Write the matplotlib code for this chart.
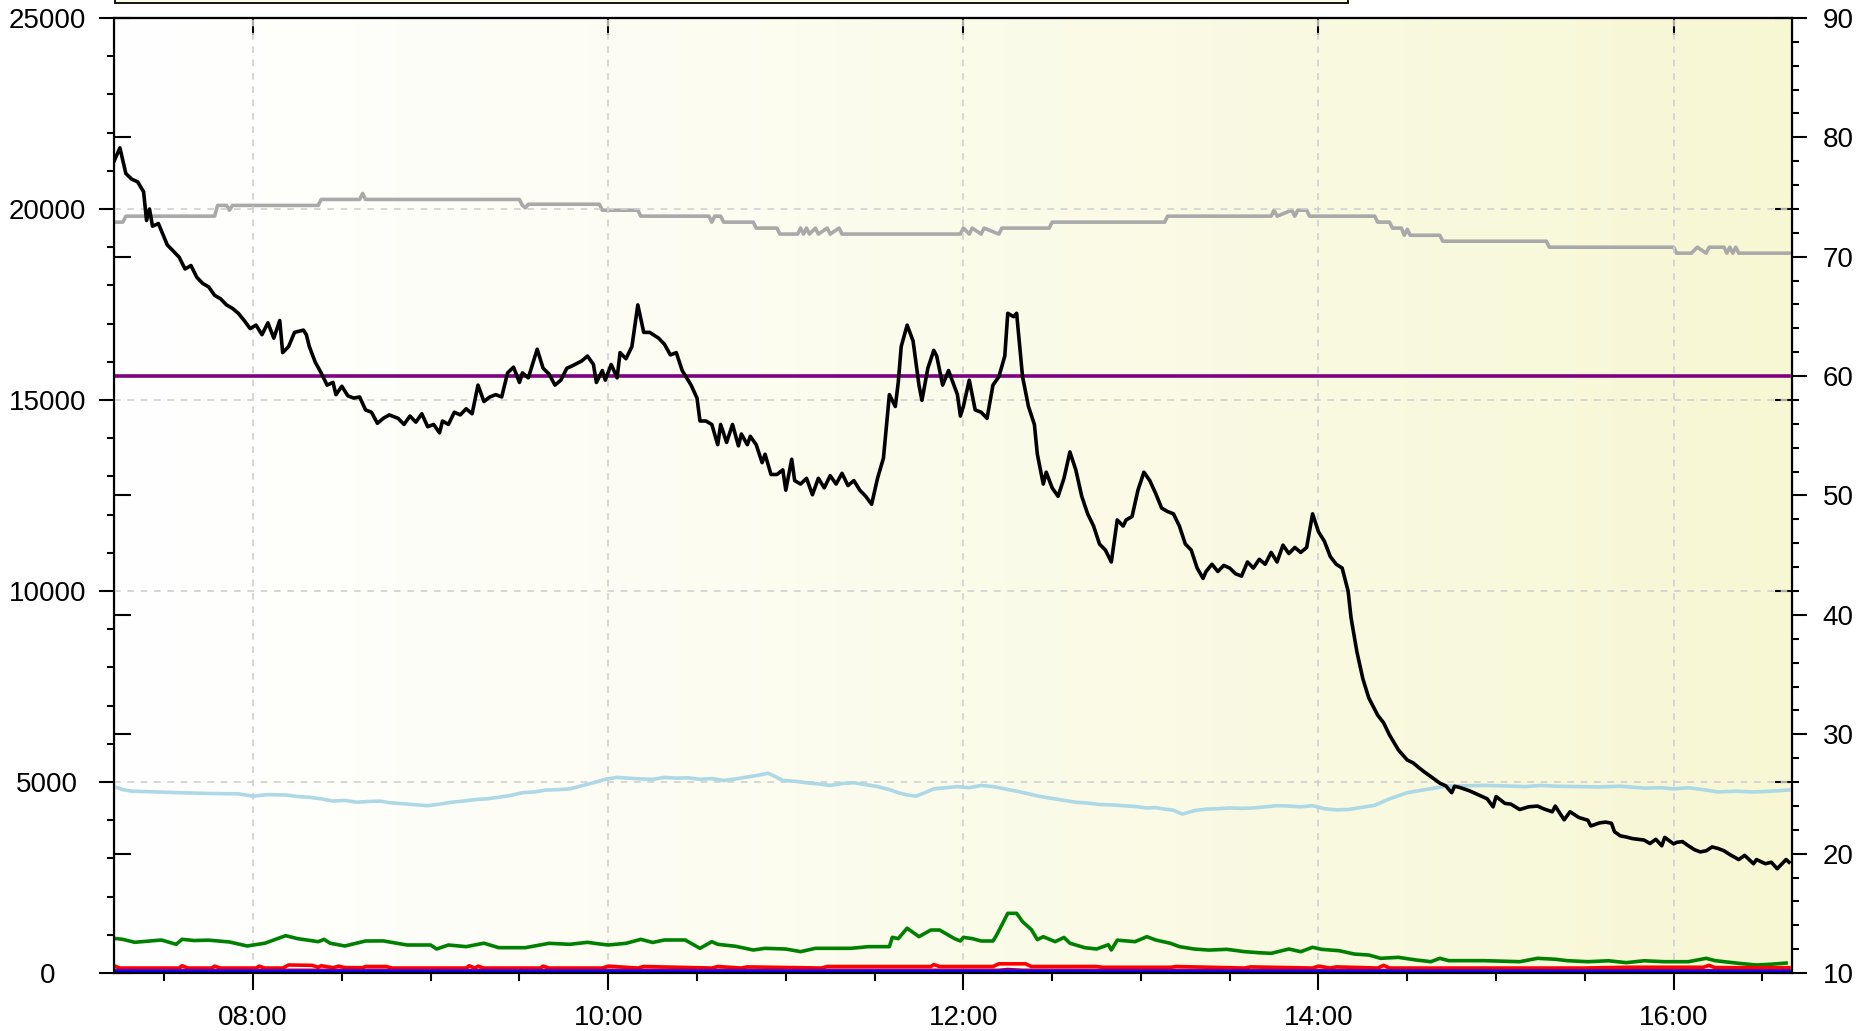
import matplotlib
matplotlib.use("Agg")
import matplotlib.pyplot as plt
import matplotlib.dates as mdates
import numpy as np
import pandas as pd
from matplotlib.colors import to_rgb
from matplotlib.patches import Rectangle

plt.rcParams["font.family"] = ["Liberation Sans", "DejaVu Sans"]
plt.rcParams["font.size"] = 20

DAY = "2024-01-01 "

# --- left axis series -------------------------------------------------------
black_t = ["07:13", "07:15", "07:17", "07:19", "07:21", "07:23", "07:24", "07:25", "07:26", "07:28",
           "07:31", "07:33", "07:35", "07:37", "07:39", "07:41", "07:43", "07:45", "07:47", "07:49",
           "07:51", "07:53", "07:55", "07:57", "07:59", "08:01", "08:03", "08:05", "08:07", "08:09",
           "08:10", "08:12", "08:14", "08:17", "08:18", "08:19", "08:21", "08:23", "08:25", "08:27",
           "08:28", "08:30", "08:32", "08:34", "08:36", "08:38", "08:40", "08:42", "08:44", "08:46",
           "08:49", "08:51", "08:53", "08:55", "08:57", "08:59", "09:01", "09:03", "09:04", "09:06",
           "09:08", "09:10", "09:12", "09:14", "09:16", "09:18", "09:20", "09:22", "09:24", "09:26",
           "09:28", "09:30", "09:31", "09:33", "09:36", "09:38", "09:40", "09:42", "09:44", "09:46",
           "09:48", "09:51", "09:53", "09:55", "09:56", "09:58", "09:59", "10:01", "10:03", "10:04",
           "10:06", "10:08", "10:10", "10:12", "10:14", "10:17", "10:19", "10:21", "10:23", "10:25",
           "10:27", "10:28", "10:30", "10:31", "10:33", "10:35", "10:37", "10:38", "10:40", "10:42",
           "10:44", "10:45", "10:47", "10:48", "10:50", "10:52", "10:53", "10:55", "10:57", "10:59",
           "11:00", "11:02", "11:03", "11:05", "11:07", "11:09", "11:11", "11:13", "11:15", "11:17",
           "11:19", "11:21", "11:23", "11:25", "11:27", "11:29", "11:31", "11:33", "11:35", "11:37",
           "11:38", "11:39", "11:41", "11:43", "11:45", "11:46", "11:48", "11:50", "11:51", "11:53",
           "11:55", "11:58", "11:59", "12:00", "12:02", "12:04", "12:06", "12:08", "12:10", "12:12",
           "12:14", "12:15", "12:17", "12:18", "12:20", "12:22", "12:24", "12:25", "12:27", "12:28",
           "12:30", "12:32", "12:34", "12:36", "12:38", "12:40", "12:42", "12:44", "12:46", "12:48",
           "12:50", "12:52", "12:54", "12:55", "12:57", "12:59", "13:01", "13:03", "13:05", "13:07",
           "13:09", "13:11", "13:13", "13:15", "13:17", "13:19", "13:21", "13:22", "13:24", "13:26",
           "13:28", "13:30", "13:32", "13:34", "13:36", "13:38", "13:40", "13:42", "13:44", "13:46",
           "13:48", "13:50", "13:52", "13:54", "13:56", "13:58", "14:00", "14:02", "14:04", "14:06",
           "14:08", "14:10", "14:11", "14:13", "14:15", "14:17", "14:19", "14:20", "14:22", "14:24",
           "14:27", "14:30", "14:32", "14:34", "14:36", "14:38", "14:41", "14:43", "14:45", "14:46",
           "14:48", "14:51", "14:53", "14:55", "14:57", "14:59", "15:00", "15:03", "15:05", "15:08",
           "15:11", "15:14", "15:16", "15:19", "15:20", "15:23", "15:25", "15:28", "15:31", "15:32",
           "15:35", "15:37", "15:39", "15:40", "15:42", "15:44", "15:46", "15:48", "15:50", "15:52",
           "15:54", "15:56", "15:57", "16:00", "16:01", "16:03", "16:05", "16:07", "16:09", "16:11",
           "16:13", "16:15", "16:17", "16:19", "16:22", "16:24", "16:27", "16:28", "16:31", "16:33",
           "16:35", "16:38", "16:39"]
black_v = [21250, 21600, 20930, 20780, 20710, 20450, 19700, 20000, 19550, 19620,
           19060, 18900, 18740, 18430, 18520, 18210, 18050, 17960, 17740, 17650,
           17490, 17400, 17270, 17080, 16870, 16960, 16710, 17020, 16620, 17080,
           16240, 16400, 16770, 16830, 16710, 16400, 15990, 15710, 15390, 15460,
           15140, 15360, 15110, 15050, 15080, 14740, 14680, 14390, 14520, 14610,
           14520, 14360, 14580, 14420, 14640, 14300, 14360, 14140, 14450, 14360,
           14680, 14610, 14770, 14640, 15390, 14960, 15080, 15140, 15080, 15710,
           15860, 15460, 15710, 15580, 16330, 15830, 15680, 15390, 15520, 15830,
           15900, 16020, 16150, 15930, 15460, 15770, 15520, 15930, 15580, 16240,
           16080, 16400, 17490, 16770, 16770, 16620, 16460, 16180, 16240, 15770,
           15520, 15390, 15050, 14450, 14450, 14360, 13830, 14360, 13890, 14360,
           13800, 14110, 13830, 14050, 13830, 13360, 13580, 13050, 13050, 13170,
           12640, 13450, 12890, 12800, 12950, 12520, 12950, 12700, 13020, 12800,
           13080, 12760, 12890, 12640, 12480, 12270, 12950, 13480, 15140, 14830,
           15460, 16400, 16960, 16550, 15390, 14990, 15830, 16300, 16150, 15390,
           15770, 15140, 14580, 14830, 15520, 14740, 14680, 14520, 15390, 15610,
           16150, 17270, 17180, 17270, 15610, 14830, 14360, 13580, 12800, 13110,
           12700, 12480, 12950, 13640, 13170, 12480, 12020, 11700, 11230, 11070,
           10760, 11860, 11700, 11860, 11950, 12640, 13110, 12890, 12550, 12170,
           12080, 12020, 11700, 11230, 11070, 10600, 10330, 10510, 10700, 10510,
           10670, 10600, 10450, 10390, 10760, 10600, 10830, 10700, 11010, 10760,
           11200, 10980, 11140, 11010, 11140, 12020, 11550, 11300, 10900, 10700,
           10600, 10000, 9300, 8400, 7700, 7200, 6900, 6750, 6550, 6230,
           5840, 5575, 5500, 5370, 5250, 5140, 4970, 4900, 4720, 4890,
           4850, 4770, 4700, 4630, 4560, 4350, 4620, 4440, 4420, 4280,
           4350, 4370, 4300, 4220, 4370, 4010, 4220, 4070, 4000, 3850,
           3930, 3950, 3920, 3700, 3590, 3560, 3520, 3500, 3480, 3390,
           3500, 3330, 3550, 3380, 3420, 3440, 3330, 3230, 3170, 3200,
           3300, 3260, 3200, 3100, 2970, 3080, 2860, 2970, 2860, 2900,
           2730, 2970, 2900]

lightblue_t = ["07:13", "07:16", "07:19", "07:27", "07:35", "07:45", "07:55", "08:00", "08:05", "08:11",
               "08:15", "08:19", "08:23", "08:27", "08:31", "08:35", "08:39", "08:43", "08:46", "08:49",
               "08:54", "08:59", "09:03", "09:07", "09:11", "09:15", "09:19", "09:23", "09:27", "09:31",
               "09:35", "09:39", "09:43", "09:47", "09:51", "09:55", "09:59", "10:03", "10:07", "10:11",
               "10:15", "10:19", "10:23", "10:27", "10:31", "10:35", "10:39", "10:43", "10:47", "10:51",
               "10:54", "10:57", "10:59", "11:03", "11:07", "11:11", "11:15", "11:19", "11:23", "11:27",
               "11:31", "11:35", "11:38", "11:41", "11:44", "11:47", "11:50", "11:54", "11:58", "12:02",
               "12:06", "12:10", "12:14", "12:18", "12:22", "12:26", "12:30", "12:34", "12:38", "12:42",
               "12:46", "12:50", "12:54", "12:58", "13:02", "13:05", "13:08", "13:11", "13:14", "13:18",
               "13:22", "13:26", "13:30", "13:34", "13:38", "13:42", "13:46", "13:50", "13:54", "13:58",
               "14:02", "14:06", "14:10", "14:14", "14:19", "14:24", "14:30", "14:36", "14:43", "14:49",
               "14:56", "15:02", "15:10", "15:15", "15:20", "15:27", "15:35", "15:42", "15:50", "15:56",
               "16:00", "16:05", "16:10", "16:15", "16:21", "16:27", "16:33", "16:39"]
lightblue_v = [4880, 4800, 4760, 4740, 4720, 4700, 4690, 4630, 4670, 4660,
               4620, 4600, 4560, 4500, 4520, 4470, 4490, 4500, 4460, 4440,
               4410, 4380, 4420, 4470, 4500, 4540, 4560, 4600, 4650, 4720,
               4740, 4790, 4800, 4820, 4900, 4980, 5070, 5120, 5100, 5080,
               5070, 5120, 5100, 5110, 5070, 5090, 5040, 5080, 5130, 5180,
               5230, 5120, 5040, 5020, 4980, 4950, 4910, 4960, 4980, 4930,
               4880, 4800, 4720, 4660, 4630, 4720, 4820, 4850, 4880, 4850,
               4910, 4880, 4820, 4760, 4690, 4620, 4570, 4520, 4470, 4450,
               4410, 4400, 4380, 4360, 4320, 4330, 4290, 4260, 4160, 4250,
               4290, 4300, 4320, 4310, 4320, 4350, 4380, 4370, 4350, 4380,
               4300, 4270, 4280, 4330, 4390, 4560, 4720, 4800, 4890, 4900,
               4910, 4900, 4880, 4910, 4890, 4880, 4870, 4890, 4840, 4850,
               4820, 4850, 4800, 4740, 4760, 4740, 4760, 4790]

green_t = ["07:13", "07:16", "07:20", "07:24", "07:29", "07:34", "07:36", "07:40", "07:45", "07:52",
           "07:58", "08:04", "08:11", "08:15", "08:22", "08:24", "08:26", "08:31", "08:38", "08:44",
           "08:52", "09:00", "09:02", "09:06", "09:12", "09:18", "09:23", "09:32", "09:40", "09:47",
           "09:53", "09:57", "10:00", "10:06", "10:11", "10:15", "10:19", "10:26", "10:31", "10:35",
           "10:37", "10:39", "10:43", "10:49", "10:53", "11:00", "11:05", "11:10", "11:12", "11:22",
           "11:28", "11:35", "11:36", "11:38", "11:41", "11:45", "11:49", "11:52", "11:57", "11:59",
           "12:00", "12:03", "12:06", "12:10", "12:11", "12:13", "12:15", "12:18", "12:20", "12:23",
           "12:25", "12:27", "12:31", "12:34", "12:36", "12:41", "12:45", "12:49", "12:50", "12:52",
           "12:58", "13:02", "13:05", "13:10", "13:13", "13:18", "13:23", "13:29", "13:35", "13:40",
           "13:44", "13:50", "13:54", "13:58", "14:01", "14:07", "14:12", "14:17", "14:21", "14:27",
           "14:33", "14:38", "14:41", "14:44", "14:56", "15:08", "15:14", "15:20", "15:24", "15:31",
           "15:38", "15:44", "15:50", "15:57", "16:05", "16:11", "16:14", "16:22", "16:28", "16:33",
           "16:38"]
green_v = [908, 880, 804, 830, 864, 751, 882, 850, 860, 812,
           707, 780, 977, 900, 820, 880, 780, 707, 838, 840,
           733, 733, 628, 733, 690, 780, 663, 663, 777, 751,
           803, 760, 733, 777, 881, 800, 864, 864, 646, 820,
           751, 733, 700, 602, 646, 628, 559, 646, 646, 646,
           690, 690, 934, 900, 1173, 952, 1125, 1125, 900, 838,
           934, 900, 838, 838, 960, 1257, 1562, 1562, 1344, 1134,
           873, 950, 820, 930, 780, 663, 628, 740, 602, 860,
           820, 951, 864, 777, 690, 628, 600, 620, 559, 530,
           515, 628, 558, 673, 620, 584, 497, 470, 384, 410,
           340, 296, 384, 323, 323, 296, 384, 360, 323, 296,
           320, 271, 320, 296, 296, 384, 323, 253, 209, 230,
           260]

red_t = ["07:13", "07:15", "07:35", "07:36", "07:38", "07:46", "07:47", "07:49", "08:01", "08:02",
         "08:04", "08:10", "08:12", "08:20", "08:22", "08:23", "08:27", "08:29", "08:31", "08:37",
         "08:38", "08:45", "08:47", "09:12", "09:13", "09:15", "09:16", "09:18", "09:37", "09:38",
         "09:40", "09:58", "10:00", "10:10", "10:12", "10:35", "10:37", "10:45", "10:47", "11:12",
         "11:14", "11:49", "11:50", "11:52", "12:10", "12:12", "12:14", "12:21", "12:23", "12:45",
         "12:47", "13:10", "13:12", "13:35", "13:37", "13:58", "14:00", "14:04", "14:06", "14:20",
         "14:22", "14:24", "15:30", "15:45", "16:10", "16:12", "16:14", "16:39"]
red_v = [190, 130, 130, 190, 130, 130, 180, 130, 130, 180,
         130, 130, 210, 200, 150, 190, 140, 180, 140, 140,
         170, 170, 130, 130, 190, 130, 180, 130, 130, 180,
         130, 130, 180, 130, 170, 130, 170, 130, 160, 130,
         170, 170, 220, 170, 170, 240, 240, 240, 170, 170,
         150, 150, 170, 130, 160, 130, 180, 130, 160, 130,
         200, 130, 130, 150, 150, 200, 140, 140]

violet_t = ["07:13", "12:12", "12:15", "12:20", "16:39"]
violet_v = [70, 70, 90, 70, 60]

blue_t = ["07:13", "16:39"]
blue_v = [25, 25]

# --- right axis series ------------------------------------------------------
gray_t = ["07:13", "07:16", "07:17", "07:47", "07:48", "07:51", "07:52", "07:53", "08:22", "08:23",
          "08:36", "08:37", "08:38", "09:30", "09:31", "09:32", "09:33", "09:57", "09:58", "10:10",
          "10:11", "10:34", "10:35", "10:36", "10:38", "10:39", "10:49", "10:50", "10:57", "10:58",
          "11:04", "11:05", "11:06", "11:07", "11:08", "11:10", "11:11", "11:14", "11:15", "11:18",
          "11:19", "11:22", "11:59", "12:00", "12:02", "12:03", "12:06", "12:07", "12:12", "12:13",
          "12:29", "12:30", "13:08", "13:09", "13:44", "13:45", "13:46", "13:51", "13:52", "13:53",
          "13:56", "13:57", "14:19", "14:20", "14:24", "14:25", "14:28", "14:29", "14:30", "14:31",
          "14:41", "14:42", "15:17", "15:18", "16:00", "16:01", "16:06", "16:08", "16:11", "16:12",
          "16:17", "16:18", "16:19", "16:20", "16:21", "16:22", "16:24", "16:39"]
gray_v = [72.9, 72.9, 73.4, 73.4, 74.3, 74.3, 73.9, 74.3, 74.3, 74.8,
          74.8, 75.3, 74.8, 74.8, 74.3, 74.1, 74.4, 74.4, 73.9, 73.9,
          73.4, 73.4, 72.9, 73.4, 73.4, 72.9, 72.9, 72.4, 72.4, 71.9,
          71.9, 72.4, 71.9, 72.4, 71.9, 72.4, 71.9, 72.4, 71.9, 72.4,
          71.9, 71.9, 71.9, 72.4, 71.9, 72.4, 71.9, 72.4, 71.9, 72.4,
          72.4, 72.9, 72.9, 73.4, 73.4, 73.9, 73.4, 73.9, 73.4, 73.9,
          73.9, 73.4, 73.4, 72.9, 72.9, 72.4, 72.4, 71.8, 72.3, 71.8,
          71.8, 71.3, 71.3, 70.8, 70.8, 70.3, 70.3, 70.8, 70.3, 70.8,
          70.8, 70.3, 70.8, 70.3, 70.8, 70.3, 70.3, 70.3]

limit_t = ["07:13", "16:39"]
limit_v = [60, 60]

x_start, x_end = "07:13", "16:40"


def to_time(values):
    return pd.to_datetime([DAY + v for v in values])


fig = plt.figure(figsize=(18.74, 10.31), dpi=100)
rect = [114 / 1874, 1 - 973 / 1031, (1792 - 114) / 1874, (973 - 18) / 1031]

# background gradient (white -> pale yellow)
bg = fig.add_axes(rect, zorder=0)
c0 = np.array(to_rgb("#ffffff"))
c1 = np.array(to_rgb("#f7f7d4"))
ramp = np.linspace(0, 1, 400) ** 1.1
grad = c0[None, :] + (c1 - c0)[None, :] * ramp[:, None]
bg.imshow(grad[None, :, :], aspect="auto", extent=[0, 1, 0, 1], interpolation="bilinear")
bg.set_axis_off()

ax1 = fig.add_axes(rect, zorder=2)
ax2 = ax1.twinx()
ax2.set_zorder(1)
ax1.patch.set_visible(False)
ax2.patch.set_visible(False)

lw = 2.6
ax2.plot(to_time(gray_t), gray_v, color="#a9a9a9", lw=lw)
ax2.plot(to_time(limit_t), limit_v, color="#800080", lw=lw)
ax1.plot(to_time(lightblue_t), lightblue_v, color="#add8e6", lw=lw)
ax1.plot(to_time(green_t), green_v, color="#008000", lw=lw)
ax1.plot(to_time(red_t), red_v, color="#ff0000", lw=lw)
ax1.plot(to_time(violet_t), violet_v, color="#800080", lw=lw)
ax1.plot(to_time(blue_t), blue_v, color="#0000ff", lw=lw)
ax1.plot(to_time(black_t), black_v, color="black", lw=lw)

t0, t1 = to_time([x_start, x_end])
ax1.set_xlim(t0, t1)
ax1.set_ylim(0, 25000)
ax2.set_ylim(10, 90)

ax1.xaxis.set_major_locator(mdates.HourLocator(byhour=range(0, 24, 2)))
ax1.xaxis.set_minor_locator(mdates.MinuteLocator(byminute=[0, 30]))
ax1.xaxis.set_major_formatter(mdates.DateFormatter("%H:%M"))
ax1.set_yticks(np.arange(0, 25001, 5000))
ax1.set_yticks(np.arange(0, 25001, 1000), minor=True)
ax2.set_yticks(np.arange(10, 91, 10))
ax2.set_yticks(np.arange(10, 91, 2), minor=True)

ax1.tick_params(axis="x", which="major", direction="out", length=12, width=1.5, pad=11)
ax1.tick_params(axis="x", which="minor", direction="out", length=6, width=1.5)
# left labels are centred in their column
ax1.tick_params(axis="y", which="major", direction="out", length=11, width=1.5, pad=37)
ax1.tick_params(axis="y", which="minor", direction="out", length=5, width=1.5)
for lab in ax1.get_yticklabels():
    lab.set_horizontalalignment("center")
ax2.tick_params(axis="y", which="major", direction="out", length=11, width=1.5, pad=11)
ax2.tick_params(axis="y", which="minor", direction="out", length=5, width=1.5)

# inner ticks mirrored on opposite spines
top = ax1.secondary_xaxis("top")
top.xaxis.set_major_locator(mdates.HourLocator(byhour=range(0, 24, 2)))
top.tick_params(direction="in", length=12, width=1.5, labeltop=False)
top.spines["top"].set_linewidth(1.5)
rin = ax1.secondary_yaxis("right")
rin.set_yticks(np.arange(0, 25001, 5000))
rin.tick_params(direction="in", length=12, width=1.5, labelright=False)
lin = ax2.secondary_yaxis("left")
lin.set_yticks(np.arange(10, 91, 10))
lin.tick_params(direction="in", length=12, width=1.5, labelleft=False)

for ax in (ax1, ax2):
    for s in ax.spines.values():
        s.set_linewidth(1.5)

ax1.grid(True, which="major", color="#d0d0d0", linestyle=(0, (4, 4)), lw=1.2)

# legend frame (mostly outside the canvas)
fig.patches.append(Rectangle((115 / 1874, 1 - 3 / 1031), (1348 - 115) / 1874, 0.1,
                             transform=fig.transFigure, facecolor="#fdfde4",
                             edgecolor="black", lw=1.3))

fig.savefig("out.png", dpi=100)
